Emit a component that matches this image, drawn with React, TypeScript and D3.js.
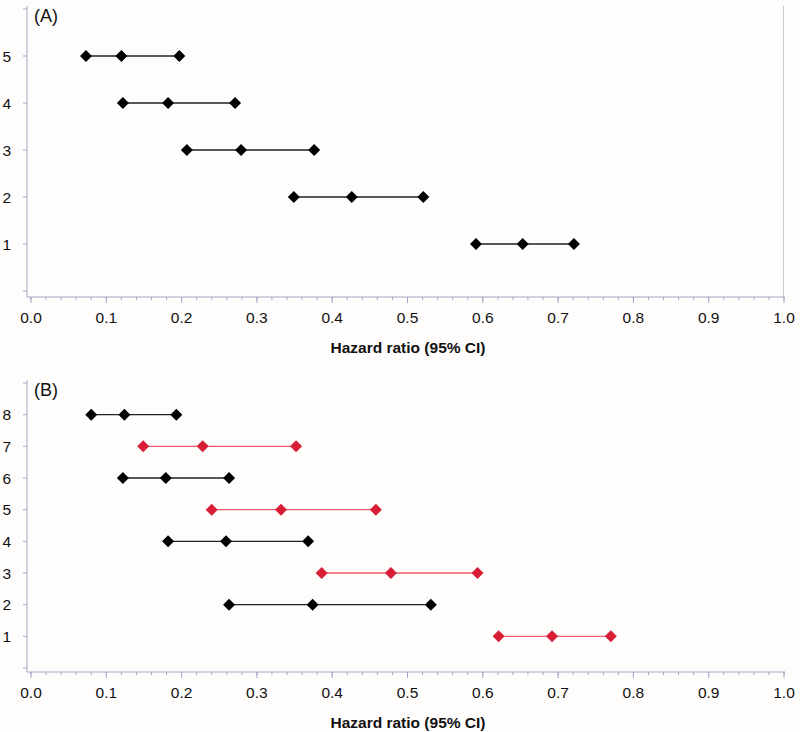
import React from "react";
import * as d3 from "d3";

const xTicks = [0, 0.1, 0.2, 0.3, 0.4, 0.5, 0.6, 0.7, 0.8, 0.9, 1.0];
const axisTitle = "Hazard ratio (95% CI)";

const rowsA = [1, 2, 3, 4, 5];
const lowA = [0.591, 0.349, 0.207, 0.122, 0.073];
const estA = [0.653, 0.426, 0.279, 0.182, 0.12];
const highA = [0.721, 0.521, 0.376, 0.271, 0.197];
const colorA = ["black", "black", "black", "black", "black"];

const rowsB = [1, 2, 3, 4, 5, 6, 7, 8];
const lowB = [0.621, 0.263, 0.386, 0.182, 0.24, 0.122, 0.149, 0.08];
const estB = [0.692, 0.374, 0.478, 0.259, 0.332, 0.179, 0.228, 0.124];
const highB = [0.77, 0.531, 0.593, 0.368, 0.458, 0.263, 0.352, 0.193];
const colorB = ["red", "black", "red", "black", "red", "black", "red", "black"];

const W = 800;
const H = 732;
const AXIS_COLOR = "#a3a7c4";
const FONT = "'Liberation Sans', Arial, sans-serif";
const MARKER = { black: "#000000", red: "#d81e36" };
const LINE = { black: "#222222", red: "#ec5b6b" };

type PanelProps = {
  label: string;
  rows: number[];
  low: number[];
  est: number[];
  high: number[];
  colors: string[];
  yMax: number;
  yTop: number;
  yZero: number;
  xAxisY: number;
  rightBorder: boolean;
};

function Diamond({ cx, cy, fill }: { cx: number; cy: number; fill: string }) {
  const r = 6;
  return (
    <path
      d={`M${cx},${cy - r}L${cx + r},${cy}L${cx},${cy + r}L${cx - r},${cy}Z`}
      fill={fill}
    />
  );
}

function Panel(p: PanelProps) {
  const x = d3.scaleLinear().domain([0, 1]).range([31, 784]);
  const y = d3.scaleLinear().domain([0, p.yMax]).range([p.yZero, p.yTop]);
  const yTickVals = d3.range(0, p.yMax + 1);
  const minor = d3.range(0, 1.0001, 0.02);
  const axisX = 27;
  return (
    <g>
      {p.rightBorder && (
        <line x1={783.5} x2={783.5} y1={p.yTop - 3} y2={p.xAxisY} stroke="#c9c9c9" strokeWidth={1} />
      )}
      <line x1={axisX} x2={axisX} y1={p.yTop - 3} y2={p.xAxisY} stroke={AXIS_COLOR} strokeWidth={1} />
      {yTickVals.map((v) => (
        <line key={"yt" + v} x1={axisX - 4} x2={axisX} y1={y(v)} y2={y(v)} stroke={AXIS_COLOR} strokeWidth={1} />
      ))}
      {p.rows.map((r) => (
        <text key={"yl" + r} x={11} y={y(r)} dy="0.36em" textAnchor="end" fontSize={15.5} fontFamily={FONT} fill="#111">
          {r}
        </text>
      ))}
      <line x1={axisX} x2={785} y1={p.xAxisY} y2={p.xAxisY} stroke={AXIS_COLOR} strokeWidth={1} />
      {minor.map((v, i) => (
        <line key={"mt" + i} x1={x(v)} x2={x(v)} y1={p.xAxisY} y2={p.xAxisY + 3} stroke={AXIS_COLOR} strokeWidth={1} />
      ))}
      {xTicks.map((v) => (
        <line key={"xt" + v} x1={x(v)} x2={x(v)} y1={p.xAxisY} y2={p.xAxisY + 6} stroke={AXIS_COLOR} strokeWidth={1} />
      ))}
      {xTicks.map((v) => (
        <text key={"xl" + v} x={x(v)} y={p.xAxisY + 26} textAnchor="middle" fontSize={15.5} fontFamily={FONT} fill="#111">
          {d3.format(".1f")(v)}
        </text>
      ))}
      <text x={408} y={p.xAxisY + 56} textAnchor="middle" fontSize={15.5} fontWeight="bold" fontFamily={FONT} fill="#111">
        {axisTitle}
      </text>
      <text x={34} y={p.yTop + 13} fontSize={18} fontFamily={FONT} fill="#111">
        {p.label}
      </text>
      {p.rows.map((r, i) => {
        const c = p.colors[i] as "black" | "red";
        const cy = y(r);
        return (
          <g key={"row" + r}>
            <line x1={x(p.low[i])} x2={x(p.high[i])} y1={cy} y2={cy} stroke={LINE[c]} strokeWidth={1.3} />
            <Diamond cx={x(p.low[i])} cy={cy} fill={MARKER[c]} />
            <Diamond cx={x(p.est[i])} cy={cy} fill={MARKER[c]} />
            <Diamond cx={x(p.high[i])} cy={cy} fill={MARKER[c]} />
          </g>
        );
      })}
    </g>
  );
}

export default function App() {
  return (
    <svg
      width={W}
      height={H}
      style={{ position: "absolute", left: 0, top: 0, background: "#fffcfc" }}
    >
      <rect x={0} y={0} width={W} height={H} fill="#fffcfc" />
      <Panel
        label="(A)"
        rows={rowsA}
        low={lowA}
        est={estA}
        high={highA}
        colors={colorA}
        yMax={6}
        yTop={9}
        yZero={291}
        xAxisY={297}
        rightBorder={true}
      />
      <Panel
        label="(B)"
        rows={rowsB}
        low={lowB}
        est={estB}
        high={highB}
        colors={colorB}
        yMax={9}
        yTop={383}
        yZero={668}
        xAxisY={672}
        rightBorder={false}
      />
    </svg>
  );
}
